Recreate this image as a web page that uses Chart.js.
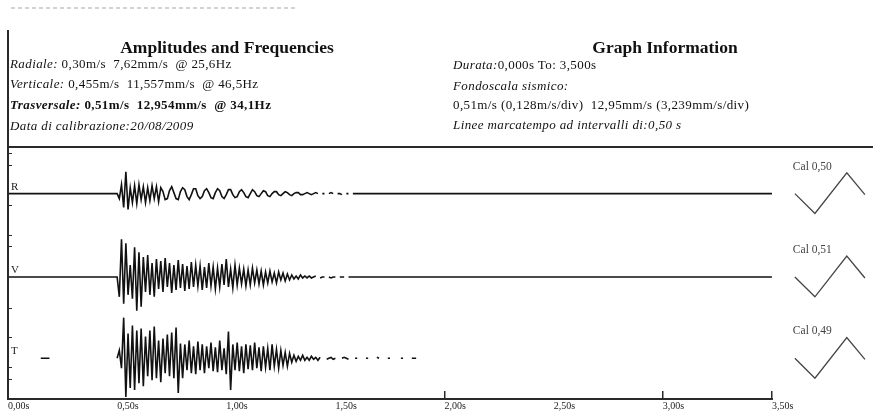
<!DOCTYPE html>
<html>
<head>
<meta charset="utf-8">
<script src="https://cdn.jsdelivr.net/npm/chart.js@4.4.0/dist/chart.umd.min.js"></script>
<style>
html,body{margin:0;padding:0;background:#fff;}
#wrap{position:relative;width:873px;height:417px;overflow:hidden;font-family:"Liberation Serif","Times New Roman",serif;color:#111;}
#grafico{position:absolute;left:0;top:0;}
.riga{position:absolute;font-size:13px;line-height:16px;letter-spacing:0.4px;white-space:pre;}
.tit{position:absolute;font-weight:bold;font-size:17.5px;line-height:20px;text-align:center;white-space:nowrap;}
</style>
</head>
<body>
<div id="wrap">
<canvas id="grafico" width="873" height="417"></canvas>

<div class="tit" style="left:100px;top:37px;width:254px">Amplitudes and Frequencies</div>
<div class="riga" style="left:10px;top:56px"><i>Radiale:</i> 0,30m/s  7,62mm/s  @ 25,6Hz</div>
<div class="riga" style="left:10px;top:76px"><i>Verticale:</i> 0,455m/s  11,557mm/s  @ 46,5Hz</div>
<div class="riga" style="left:10px;top:97px"><b><i>Trasversale:</i> 0,51m/s  12,954mm/s  @ 34,1Hz</b></div>
<div class="riga" style="left:10px;top:118px"><i>Data di calibrazione:20/08/2009</i></div>

<div class="tit" style="left:540px;top:37px;width:250px">Graph Information</div>
<div class="riga" style="left:453px;top:57px"><i>Durata:</i>0,000s To: 3,500s</div>
<div class="riga" style="left:453px;top:78px"><i>Fondoscala sismico:</i></div>
<div class="riga" style="left:453px;top:97px">0,51m/s (0,128m/s/div)  12,95mm/s (3,239mm/s/div)</div>
<div class="riga" style="left:453px;top:117px"><i>Linee marcatempo ad intervalli di:0,50 s</i></div>
</div>

<script>
// ----------------------- Dados --------------------------------------------//

var tracciati = ['R', 'V', 'T'];
var calEtichette = ['Cal 0,50', 'Cal 0,51', 'Cal 0,49'];
var tickAsse = [0, 0.5, 1, 1.5, 2, 2.5, 3, 3.5];
var tickMarcati = [2, 3, 3.5];
var tacche = [248, 236, 196, 165, 154, 92, 62, 32, 20];

var inizioSegnale = 0.50;   // s
var passo = 0.01;           // s tra i campioni
var fineAsse = 3.5;

// ampiezze (R e V da 0,50s a 1,60s)
var ampR = [
    0, -5, 9, -14, 22, -16, 6, -9, 8, -10,
    9, -6, 7, -9, 6, -7, 8, -5, 7, -8,
    6, 2, -6, -5, 3, 7, 1, -5, -6, 2,
    6, 4, -3, -6, -1, 5, 5, -2, -5, -3,
    3, 5, 1, -4, -5, 1, 5, 3, -3, -5,
    -1, 4, 4, -1, -4, -3, 2, 4, 1, -3,
    -4, 0, 4, 2, -2, -3, 0, 3, 2, -2,
    -3, 0, 2, 2, -1, -2, 0, 2, 1, -1,
    -2, 0, 1, 1, -1, -1, 0, 1, 0, -1,
    0, 1, 0, null, 0, 0, null, 0, 1, 0,
    null, 0, 0, -1, null, 0, 0, null, 0, 0, 0
];
var ampV = [
    0, -20, 38, -27, 34, -18, 12, -22, 30, -34,
    25, -30, 20, -15, 22, -18, 14, -20, 18, -12,
    16, -15, 19, -10, 14, -16, 12, -13, 17, -11,
    13, -14, 11, -12, 15, -10, 12, -9, 11, -13,
    10, -11, 14, -9, 10, -12, 9, -10, 13, -8,
    18, -10, 8, -11, 12, -8, 9, -7, 8, -9,
    7, -8, 9, -6, 7, -7, 6, -8, 5, -6,
    6, -5, 4, -6, 5, -3, 4, -4, 3, -3,
    2, -2, 1, -2, 2, -1, 1, -1, 1, -1,
    0, 1, null, -1, 0, 0, null, 0, -1, 0,
    0, null, 0, 0, 0, null, 0, 0, 0, 0, 0
];
// T da 0,50s a 1,87s
var ampT = [
    0, 8, -10, 41, -39, 25, -30, 33, -32, 28,
    -25, 30, -28, 22, -18, 28, -22, 32, -20, 18,
    -24, 20, -15, 24, -18, 26, -20, 31, -35, 15,
    -20, 14, -12, 18, -15, 12, -16, 17, -12, 14,
    -15, 12, -10, 16, -13, 11, -14, 18, -12, 10,
    -16, 27, -32, 14, -12, 16, -13, 12, -15, 14,
    -11, 13, -12, 16, -10, 11, -13, 12, -9, 10,
    -12, 14, -8, 9, -10, 8, -7, 6, -8, 5,
    -4, 3, -3, 2, -2, 3, -2, 1, -2, 2,
    -1, 1, -2, 1, null, null, -1, 0, 1, -1,
    0, null, null, 0, 1, 0, -1, null, null, 0,
    0, null, null, null, 0, 0, null, null, null, 1,
    0, null, null, null, 0, 0, null, null, null, null,
    0, 0, null, null, null, 0, 0, 0
];
var tPreT = [0.15, 0.19];   // piccolo tratto di T prima del segnale

var tCal = [3.605, 3.697, 3.843, 3.926];
var ampCal = [0, -20, 21, -1];

// ----------------------- Grafico --------------------------------------------//

var linhaBase = { R: 207, V: 123, T: 41 };   // unità asse y
var yMax = 253;

function punti(amp, base) {
    return amp.map(function (a, i) {
        return { x: inizioSegnale + i * passo, y: a === null ? null : base + a };
    });
}

var dsR = [{ x: 0, y: linhaBase.R }].concat(punti(ampR, linhaBase.R), [{ x: fineAsse, y: linhaBase.R }]);
var dsV = [{ x: 0, y: linhaBase.V }].concat(punti(ampV, linhaBase.V), [{ x: fineAsse, y: linhaBase.V }]);
var dsT = tPreT.map(function (t) { return { x: t, y: linhaBase.T }; })
    .concat([{ x: 0.3, y: null }], punti(ampT, linhaBase.T));

function cal(base) {
    return tCal.map(function (t, i) { return { x: t, y: base + ampCal[i] }; });
}

var stile = { borderColor: '#111', borderWidth: 1.6, pointRadius: 0, tension: 0, spanGaps: false, fill: false };
var stileCal = { borderColor: '#444', borderWidth: 1.3, pointRadius: 0, tension: 0, fill: false };

var dados = {
    datasets: [
        Object.assign({ label: 'R', data: dsR }, stile),
        Object.assign({ label: 'V', data: dsV }, stile),
        Object.assign({ label: 'T', data: dsT }, stile),
        Object.assign({ label: 'Cal R', data: cal(linhaBase.R) }, stileCal),
        Object.assign({ label: 'Cal V', data: cal(linhaBase.V) }, stileCal),
        Object.assign({ label: 'Cal T', data: cal(linhaBase.T) }, stileCal)
    ]
};

var cornice = {
    id: 'cornice',
    afterDraw: function (chart) {
        var ctx = chart.ctx;
        var xs = chart.scales.x, ys = chart.scales.y;
        var y0 = ys.getPixelForValue(0);
        ctx.save();
        ctx.fillStyle = '#2a2a2a';
        ctx.fillRect(7, 30, 2, y0 - 29);                 // bordo sinistro
        ctx.fillRect(8, 146, 865, 2);                    // separatore intestazione
        ctx.fillRect(8, y0 - 1, xs.getPixelForValue(fineAsse) - 7, 2);  // asse tempo
        tickMarcati.forEach(function (t) {
            var x = Math.round(xs.getPixelForValue(t));
            ctx.fillRect(x - 1, y0 - 8, 1.5, 8);
        });
        tacche.forEach(function (v) {
            ctx.fillRect(9, Math.round(ys.getPixelForValue(v)), 3, 1);
        });
        // riga superiore tagliata
        ctx.strokeStyle = '#c4c4c4';
        ctx.lineWidth = 1.5;
        ctx.setLineDash([4, 3]);
        ctx.beginPath();
        ctx.moveTo(11, 8);
        ctx.lineTo(296, 8);
        ctx.stroke();
        ctx.setLineDash([]);
        // etichette tracce e calibrazioni
        ctx.textBaseline = 'middle';
        ctx.textAlign = 'left';
        tracciati.forEach(function (n, i) {
            var yb = ys.getPixelForValue(linhaBase[n]);
            ctx.fillStyle = '#222';
            ctx.font = '11px "Liberation Serif", serif';
            ctx.fillText(n, 11, yb - 7);
            ctx.fillStyle = '#444';
            ctx.font = '11.5px "Liberation Serif", serif';
            ctx.fillText(calEtichette[i], xs.getPixelForValue(tCal[0]) - 2, yb - 27);
        });
        ctx.restore();
    }
};

var opcoes = {
    responsive: false,
    animation: false,
    layout: { padding: { left: 8, right: 0, top: 148, bottom: 4 } },
    plugins: { legend: { display: false }, tooltip: { enabled: false } },
    scales: {
        x: {
            type: 'linear',
            min: 0,
            max: 3.963,
            grid: { display: false, drawTicks: false },
            border: { display: false },
            afterBuildTicks: function (scale) {
                scale.ticks = tickAsse.map(function (v) { return { value: v }; });
            },
            ticks: {
                align: 'start',
                autoSkip: false,
                maxRotation: 0,
                padding: 1,
                color: '#222',
                font: { family: 'Liberation Serif', size: 10 },
                callback: function (v) { return v.toFixed(2).replace('.', ',') + 's'; }
            }
        },
        y: {
            display: false,
            min: 0,
            max: yMax
        }
    }
};

var ctx = document.getElementById('grafico').getContext('2d');
var grafico = new Chart(ctx, {
    type: 'line',
    data: dados,
    options: opcoes,
    plugins: [cornice]
});
</script>
</body>
</html>
